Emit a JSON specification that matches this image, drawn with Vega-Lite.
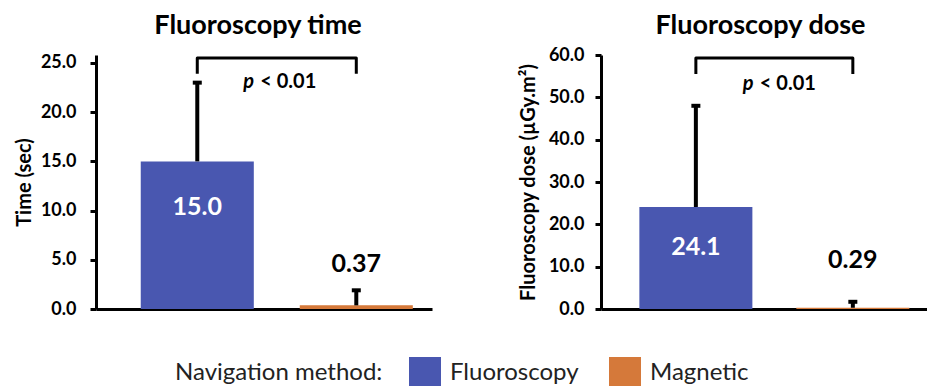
{
  "$schema": "https://vega.github.io/schema/vega-lite/v6.json",
  "padding": {"left": 14, "top": 11, "right": 0, "bottom": 5},
  "background": "white",
  "config": {
    "font": "Lato",
    "view": {"stroke": null},
    "axis": {"domainColor": "black", "domainWidth": 3, "tickColor": "black", "tickWidth": 3, "tickSize": 6, "labelFont": "Lato", "labelFontWeight": "bold", "labelFontSize": 18, "labelColor": "black", "titleFont": "Lato", "titleFontSize": 20, "titleFontWeight": "bold", "titleColor": "black", "grid": false},
    "title": {"font": "Lato", "fontSize": 27, "fontWeight": "bold", "color": "black", "anchor": "middle", "frame": "group"},
    "legend": {"labelFont": "Lato", "titleFont": "Lato"}
  },
  "datasets": {
    "time": [
      {"method": "Fluoroscopy", "mean": 15.0, "upper": 23.0, "label": "15.0"},
      {"method": "Magnetic", "mean": 0.37, "upper": 1.9, "label": "0.37"}
    ],
    "dose": [
      {"method": "Fluoroscopy", "mean": 24.1, "upper": 48.0, "label": "24.1"},
      {"method": "Magnetic", "mean": 0.29, "upper": 1.7, "label": "0.29"}
    ],
    "timeBracket": [
      {"method": "Fluoroscopy", "y": 23.9, "order": 1},
      {"method": "Fluoroscopy", "y": 25.5, "order": 2},
      {"method": "Magnetic", "y": 25.5, "order": 3},
      {"method": "Magnetic", "y": 23.9, "order": 4}
    ],
    "doseBracket": [
      {"method": "Fluoroscopy", "y": 55.5, "order": 1},
      {"method": "Fluoroscopy", "y": 59.3, "order": 2},
      {"method": "Magnetic", "y": 59.3, "order": 3},
      {"method": "Magnetic", "y": 55.5, "order": 4}
    ],
    "timeP": [{"method": "Fluoroscopy", "y": 23.07, "p": "p", "rest": "< 0.01"}],
    "doseP": [{"method": "Fluoroscopy", "y": 53.2, "p": "p", "rest": "< 0.01"}]
  },
  "spacing": 86,
  "hconcat": [
    {
      "width": 336,
      "height": 254,
      "title": {"text": "Fluoroscopy time", "offset": 14, "dx": -6},
      "layer": [
        {
          "data": {"name": "time"},
          "mark": {"type": "bar"},
          "encoding": {
            "x": {"field": "method", "type": "nominal", "scale": {"paddingInner": 0.289, "paddingOuter": 0.201, "align": 0.70}, "axis": {"title": null, "labels": false, "ticks": false}},
            "y": {"field": "mean", "type": "quantitative", "scale": {"domain": [0, 25.81], "nice": false}, "axis": {"title": "Time (sec)", "values": [0, 5, 10, 15, 20, 25], "format": ".1f", "labelPadding": 14, "titlePadding": 6}},
            "color": {"field": "method", "type": "nominal", "scale": {"domain": ["Fluoroscopy", "Magnetic"], "range": ["#4957b0", "#d5793a"]},
              "legend": {"orient": "none", "legendX": 79, "legendY": 302, "direction": "horizontal", "title": "Navigation method:", "titleOrient": "left", "titleBaseline": "middle", "titleLimit": 400, "titleFontSize": 24, "titleFontWeight": "normal", "titleColor": "#222", "titlePadding": 26, "labelFontSize": 24, "labelLimit": 300, "labelColor": "#222", "labelOffset": 9, "columnPadding": 30, "symbolType": "square", "symbolSize": 1024, "symbolStrokeWidth": 0, "symbolOpacity": 1}}
          }
        },
        {
          "data": {"name": "time"},
          "mark": {"type": "rule", "strokeWidth": 4, "color": "black"},
          "encoding": {
            "x": {"field": "method", "type": "nominal"},
            "y": {"field": "mean", "type": "quantitative"},
            "y2": {"field": "upper"}
          }
        },
        {
          "data": {"name": "time"},
          "mark": {"type": "tick", "size": 9, "thickness": 4, "color": "black", "opacity": 1},
          "encoding": {
            "x": {"field": "method", "type": "nominal"},
            "y": {"field": "upper", "type": "quantitative"}
          }
        },
        {
          "data": {"name": "time"},
          "transform": [{"filter": "datum.method == 'Fluoroscopy'"}],
          "mark": {"type": "text", "color": "white", "fontSize": 25, "fontWeight": "bold", "baseline": "middle", "dy": 46},
          "encoding": {
            "x": {"field": "method", "type": "nominal"},
            "y": {"field": "mean", "type": "quantitative"},
            "text": {"field": "label"}
          }
        },
        {
          "data": {"name": "time"},
          "transform": [{"filter": "datum.method == 'Magnetic'"}],
          "mark": {"type": "text", "color": "black", "fontSize": 25, "fontWeight": "bold", "baseline": "middle", "dy": -41},
          "encoding": {
            "x": {"field": "method", "type": "nominal"},
            "y": {"field": "mean", "type": "quantitative"},
            "text": {"field": "label"}
          }
        },
        {
          "data": {"name": "timeBracket"},
          "mark": {"type": "line", "color": "black", "strokeWidth": 3, "strokeJoin": "round"},
          "encoding": {
            "x": {"field": "method", "type": "nominal"},
            "y": {"field": "y", "type": "quantitative"},
            "order": {"field": "order"}
          }
        },
        {
          "data": {"name": "timeP"},
          "mark": {"type": "text", "color": "black", "fontSize": 20, "fontWeight": "bold", "fontStyle": "italic", "align": "left", "baseline": "middle", "dx": 46},
          "encoding": {
            "x": {"field": "method", "type": "nominal"},
            "y": {"field": "y", "type": "quantitative"},
            "text": {"field": "p"}
          }
        },
        {
          "data": {"name": "timeP"},
          "mark": {"type": "text", "color": "black", "fontSize": 20, "fontWeight": "bold", "align": "left", "baseline": "middle", "dx": 63},
          "encoding": {
            "x": {"field": "method", "type": "nominal"},
            "y": {"field": "y", "type": "quantitative"},
            "text": {"field": "rest"}
          }
        }
      ]
    },
    {
      "width": 329,
      "height": 254,
      "title": {"text": "Fluoroscopy dose", "offset": 6, "dx": -5},
      "layer": [
        {
          "data": {"name": "dose"},
          "mark": {"type": "bar"},
          "encoding": {
            "x": {"field": "method", "type": "nominal", "scale": {"paddingInner": 0.28, "paddingOuter": 0.188, "align": 0.65}, "axis": {"title": null, "labels": false, "ticks": false}},
            "y": {"field": "mean", "type": "quantitative", "scale": {"domain": [0, 60], "nice": false}, "axis": {"title": "Fluoroscopy dose (µGy.m²)", "values": [0, 10, 20, 30, 40, 50, 60], "format": ".1f", "labelPadding": 11, "titlePadding": 10}},
            "color": {"field": "method", "type": "nominal", "scale": {"domain": ["Fluoroscopy", "Magnetic"], "range": ["#4957b0", "#d5793a"]}}
          }
        },
        {
          "data": {"name": "dose"},
          "mark": {"type": "rule", "strokeWidth": 4, "color": "black"},
          "encoding": {
            "x": {"field": "method", "type": "nominal"},
            "y": {"field": "mean", "type": "quantitative"},
            "y2": {"field": "upper"}
          }
        },
        {
          "data": {"name": "dose"},
          "mark": {"type": "tick", "size": 9, "thickness": 4, "color": "black", "opacity": 1},
          "encoding": {
            "x": {"field": "method", "type": "nominal"},
            "y": {"field": "upper", "type": "quantitative"}
          }
        },
        {
          "data": {"name": "dose"},
          "transform": [{"filter": "datum.method == 'Fluoroscopy'"}],
          "mark": {"type": "text", "color": "white", "fontSize": 25, "fontWeight": "bold", "baseline": "middle", "dy": 40},
          "encoding": {
            "x": {"field": "method", "type": "nominal"},
            "y": {"field": "mean", "type": "quantitative"},
            "text": {"field": "label"}
          }
        },
        {
          "data": {"name": "dose"},
          "transform": [{"filter": "datum.method == 'Magnetic'"}],
          "mark": {"type": "text", "color": "black", "fontSize": 25, "fontWeight": "bold", "baseline": "middle", "dy": -48},
          "encoding": {
            "x": {"field": "method", "type": "nominal"},
            "y": {"field": "mean", "type": "quantitative"},
            "text": {"field": "label"}
          }
        },
        {
          "data": {"name": "doseBracket"},
          "mark": {"type": "line", "color": "black", "strokeWidth": 3, "strokeJoin": "round"},
          "encoding": {
            "x": {"field": "method", "type": "nominal"},
            "y": {"field": "y", "type": "quantitative"},
            "order": {"field": "order"}
          }
        },
        {
          "data": {"name": "doseP"},
          "mark": {"type": "text", "color": "black", "fontSize": 20, "fontWeight": "bold", "fontStyle": "italic", "align": "left", "baseline": "middle", "dx": 47},
          "encoding": {
            "x": {"field": "method", "type": "nominal"},
            "y": {"field": "y", "type": "quantitative"},
            "text": {"field": "p"}
          }
        },
        {
          "data": {"name": "doseP"},
          "mark": {"type": "text", "color": "black", "fontSize": 20, "fontWeight": "bold", "align": "left", "baseline": "middle", "dx": 64},
          "encoding": {
            "x": {"field": "method", "type": "nominal"},
            "y": {"field": "y", "type": "quantitative"},
            "text": {"field": "rest"}
          }
        }
      ]
    }
  ]
}
